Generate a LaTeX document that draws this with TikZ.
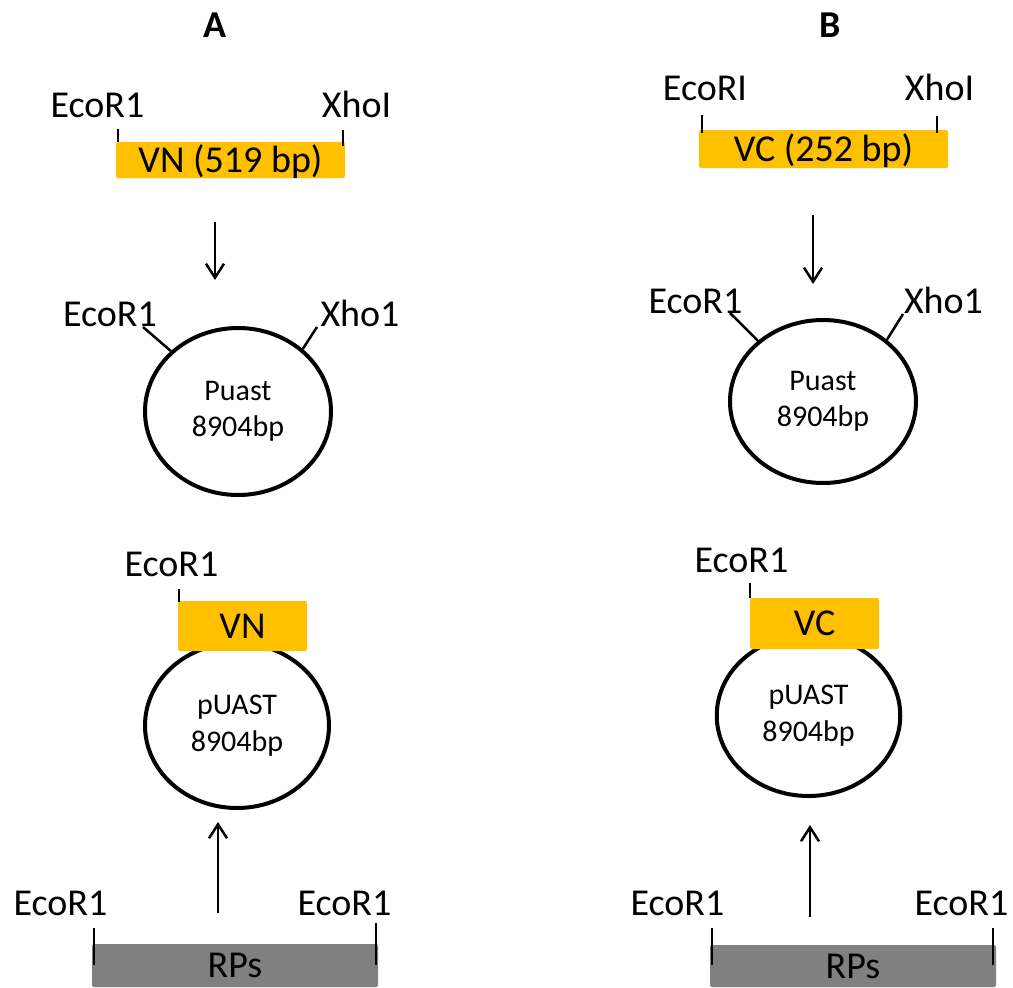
\documentclass[tikz,border=0pt]{standalone}
\usepackage{fontspec}
\setmainfont{Carlito}
\usetikzlibrary{shapes.geometric,arrows.meta}
\definecolor{gene}{HTML}{FFC000}
\definecolor{frag}{HTML}{808080}
\begin{document}
\begin{tikzpicture}[x=1pt,y=-1pt,
  big/.style={font=\fontsize{38}{44}\selectfont, inner sep=0pt, anchor=base},
  head/.style={font=\fontsize{38}{44}\selectfont\bfseries, inner sep=0pt, anchor=base},
  bar/.style={fill=gene, rounded corners=2pt, inner sep=0pt,
    font=\fontsize{38}{44}\selectfont, text height=24.5pt, text depth=0pt},
  rps/.style={bar, fill=frag},
  plasmid/.style={ellipse, draw, line width=4pt, inner sep=0pt, align=center,
    font=\fontsize{30}{36.5}\selectfont},
  tick/.style={line width=2pt},
  leader/.style={line width=2.5pt},
  arr/.style={line width=2.5pt, -{Straight Barb[length=14pt,width=18pt]}}
]
\useasboundingbox (0,0) rectangle (1013,988);

% ---------------- panel A ----------------
\node[head] (hA) at (215,37) {A};

% VN insert with cloning sites
\node[bar, minimum width=229pt, minimum height=36pt] (vn) at (230.5,160) {VN (519 bp)};
\node[big] (vnL) at (97.5,117) {EcoR1};
\node[big] (vnR) at (356.5,117) {XhoI};
\coordinate (vnLa) at (118,129); \coordinate (vnLb) at (118,142);
\coordinate (vnRa) at (343,130); \coordinate (vnRb) at (343,146);
\draw[tick] (vnLa) -- (vnLb);
\draw[tick] (vnRa) -- (vnRb);

\coordinate (aAs) at (215,222); \coordinate (aAe) at (215,280);
\draw[arr] (aAs) -- (aAe);

% vector
\node[plasmid, minimum width=186pt, minimum height=167pt] (pA) at (238,411.5) {Puast\\8904bp};
\node[big] (pAl) at (110,326) {EcoR1};
\node[big] (pAr) at (360,326) {Xho1};
\coordinate (pAla) at (143,327); \draw[leader] (pAla) -- (pA.138);
\coordinate (pAra) at (317,327); \draw[leader] (pAra) -- (pA.44);

% recombinant vector
\node[plasmid, minimum width=184pt, minimum height=165pt] (qA) at (237,725.5) {pUAST\\8904bp};
\node[bar, minimum width=129pt, minimum height=50pt] (vn2) at (242.5,626) {VN};
\node[big] (vn2L) at (171.5,576) {EcoR1};
\coordinate (vn2a) at (179,589); \coordinate (vn2b) at (179,602);
\draw[tick] (vn2a) -- (vn2b);

\coordinate (bAs) at (218,913); \coordinate (bAe) at (218,822);
\draw[arr] (bAs) -- (bAe);

% RPs fragment
\node[rps, minimum width=286pt, minimum height=43pt] (rpA) at (235,965.5) {RPs};
\node[big] (rpAl) at (60.5,915) {EcoR1};
\node[big] (rpAr) at (344.5,915) {EcoR1};
\coordinate (rpAla) at (94,928); \coordinate (rpAlb) at (94,965);
\coordinate (rpAra) at (376,923); \coordinate (rpArb) at (376,965);
\draw[tick] (rpAla) -- (rpAlb);
\draw[tick] (rpAra) -- (rpArb);

% ---------------- panel B ----------------
\node[head] (hB) at (830,37) {B};

% VC insert with cloning sites
\node[bar, minimum width=249pt, minimum height=38pt] (vc) at (823.5,149) {VC (252 bp)};
\node[big] (vcL) at (705,100) {EcoRI};
\node[big] (vcR) at (939.5,100) {XhoI};
\coordinate (vcLa) at (702,115); \coordinate (vcLb) at (702,133);
\coordinate (vcRa) at (937,116); \coordinate (vcRb) at (937,133);
\draw[tick] (vcLa) -- (vcLb);
\draw[tick] (vcRa) -- (vcRb);

\coordinate (aBs) at (813,215); \coordinate (aBe) at (813,284);
\draw[arr] (aBs) -- (aBe);

% vector
\node[plasmid, minimum width=186pt, minimum height=163pt] (pB) at (823,401.5) {Puast\\8904bp};
\node[big] (pBl) at (695.5,313) {EcoR1};
\node[big] (pBr) at (943.5,313) {Xho1};
\coordinate (pBla) at (730,313); \draw[leader] (pBla) -- (pB.137);
\coordinate (pBra) at (903,314); \draw[leader] (pBra) -- (pB.44);

% recombinant vector
\node[plasmid, minimum width=183.5pt, minimum height=161pt] (qB) at (808.5,715.5) {pUAST\\8904bp};
\node[bar, minimum width=129pt, minimum height=51pt] (vc2) at (814.5,623.5) {VC};
\node[big] (vc2L) at (741.5,572) {EcoR1};
\coordinate (vc2a) at (750,583); \coordinate (vc2b) at (750,598);
\draw[tick] (vc2a) -- (vc2b);

\coordinate (bBs) at (810,917); \coordinate (bBe) at (810,825);
\draw[arr] (bBs) -- (bBe);

% RPs fragment
\node[rps, minimum width=286pt, minimum height=42pt] (rpB) at (853,966) {RPs};
\node[big] (rpBl) at (677.5,915) {EcoR1};
\node[big] (rpBr) at (961.5,915) {EcoR1};
\coordinate (rpBla) at (712,928); \coordinate (rpBlb) at (712,965);
\coordinate (rpBra) at (993,928); \coordinate (rpBrb) at (993,965);
\draw[tick] (rpBla) -- (rpBlb);
\draw[tick] (rpBra) -- (rpBrb);
\end{tikzpicture}
\end{document}
